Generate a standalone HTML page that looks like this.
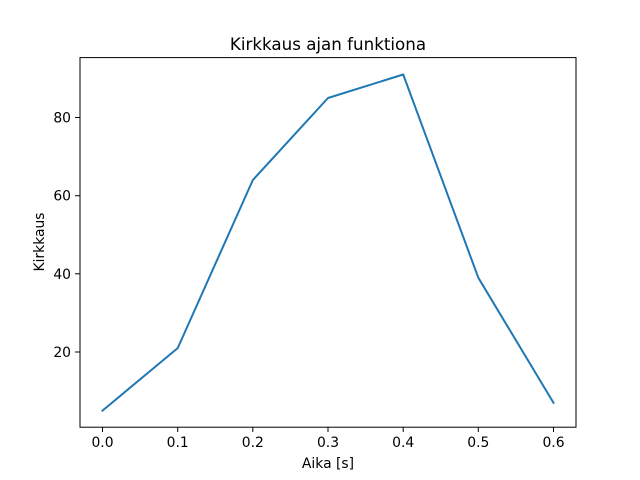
<!DOCTYPE html>
<html><head><meta charset="utf-8"><style>body{margin:0;background:#fff}svg{display:block}</style></head><body>
<svg width="640" height="480" xmlns="http://www.w3.org/2000/svg" font-family="DejaVu Sans, Liberation Sans, sans-serif" font-size="13.9">
<rect width="640" height="480" fill="#fff"/>
<polyline fill="none" stroke="#1f77b4" stroke-width="2" stroke-linejoin="round" stroke-linecap="square" points="102.5,410.6 177.7,348.1 252.8,180.1 328,98 403.2,74.5 478.3,277.7 553.5,402.8"/>
<rect x="80" y="57.6" width="496" height="369.6" fill="none" stroke="#000" stroke-width="1"/>
<g stroke="#000" stroke-width="1">
<line x1="102.5" y1="427.2" x2="102.5" y2="432"/><line x1="177.7" y1="427.2" x2="177.7" y2="432"/><line x1="252.8" y1="427.2" x2="252.8" y2="432"/><line x1="328" y1="427.2" x2="328" y2="432"/><line x1="403.2" y1="427.2" x2="403.2" y2="432"/><line x1="478.3" y1="427.2" x2="478.3" y2="432"/><line x1="553.5" y1="427.2" x2="553.5" y2="432"/>
<line x1="80" y1="352" x2="75" y2="352"/><line x1="80" y1="273.8" x2="75" y2="273.8"/><line x1="80" y1="195.7" x2="75" y2="195.7"/><line x1="80" y1="117.5" x2="75" y2="117.5"/>
</g>
<g text-anchor="middle">
<text x="102.5" y="447">0.0</text><text x="177.7" y="447">0.1</text><text x="252.8" y="447">0.2</text><text x="328" y="447">0.3</text><text x="403.2" y="447">0.4</text><text x="478.3" y="447">0.5</text><text x="553.5" y="447">0.6</text>
<text x="328" y="468">Aika [s]</text>
<text x="328" y="50" font-size="16.7">Kirkkaus ajan funktiona</text>
</g>
<g text-anchor="end">
<text x="71" y="357">20</text><text x="71" y="278.8">40</text><text x="71" y="200.7">60</text><text x="71" y="122.5">80</text>
</g>
<text transform="translate(44,242) rotate(-90)" text-anchor="middle">Kirkkaus</text>
</svg>
</body></html>
